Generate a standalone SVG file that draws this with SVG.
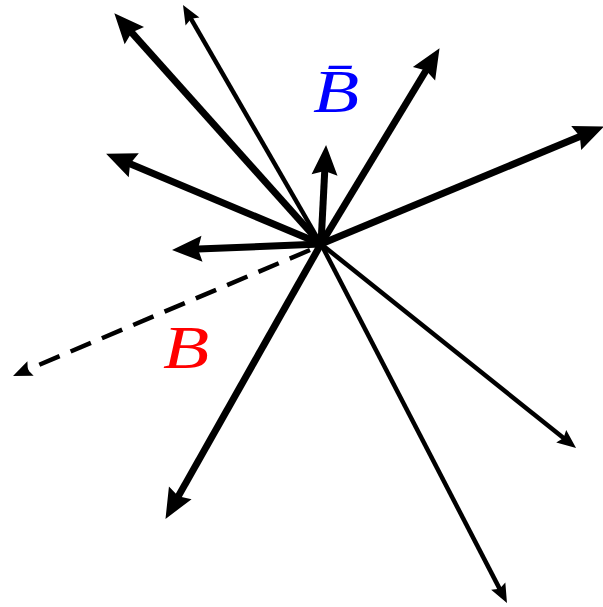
<svg xmlns="http://www.w3.org/2000/svg" width="603" height="607" viewBox="0 0 603 607">
<style>
.thick{stroke:#000;stroke-width:7;fill:none;marker-end:url(#hk)}
.thin{stroke:#000;stroke-width:4.5;fill:none;marker-end:url(#ht)}
.dash{stroke:#000;stroke-width:4.5;fill:none;stroke-dasharray:22 12;marker-end:url(#ht)}
.lbl{font-family:"Liberation Serif","DejaVu Serif",serif;font-style:italic;font-size:61px}
</style>
<defs>
<marker id="hk" markerUnits="userSpaceOnUse" markerWidth="32" markerHeight="28" refX="17" refY="13" orient="auto" overflow="visible">
<path d="M0,0 L30,13 L0,26 L4,13 Z" fill="#000"/>
</marker>
<marker id="ht" markerUnits="userSpaceOnUse" markerWidth="21" markerHeight="17" refX="11" refY="8" orient="auto" overflow="visible">
<path d="M0,0 L19,8 L0,16 L3,8 Z" fill="#000"/>
</marker>
</defs>
<g id="connectors">
<line class="thick" x1="321" y1="244" x2="123" y2="22.9"/>
<line class="thin" x1="321" y1="244" x2="187" y2="11.9"/>
<line class="thick" x1="321" y1="244" x2="432.8" y2="59.3"/>
<line class="thick" x1="321" y1="244" x2="591.9" y2="131.6"/>
<line class="thick" x1="321" y1="244" x2="118.1" y2="158.7"/>
<line class="thick" x1="321" y1="244" x2="325.4" y2="158"/>
<line class="thick" x1="321" y1="244" x2="185" y2="249.5"/>
<line class="dash" x1="310" y1="250" x2="20.4" y2="372.8"/>
<line class="thick" x1="321" y1="244" x2="171.9" y2="507.6"/>
<line class="thin" x1="321" y1="244" x2="569.8" y2="443"/>
<line class="thin" x1="321" y1="244" x2="503.3" y2="595.9"/>
</g>
<g id="label-Bbar">
<text class="lbl" transform="translate(313,112) scale(1.24,1)" fill="#0000ff">B̄</text>
</g>
<g id="label-B">
<text class="lbl" transform="translate(163,368) scale(1.24,1)" fill="#ff0000">B</text>
</g>
</svg>
